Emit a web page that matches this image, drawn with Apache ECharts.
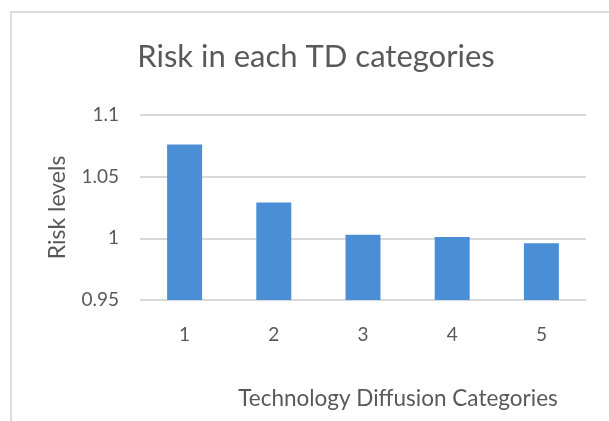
<!DOCTYPE html>
<html>
<head>
<meta charset="utf-8">
<script src="https://cdn.jsdelivr.net/npm/echarts@6/dist/echarts.min.js"></script>
<style>
  html, body { margin: 0; padding: 0; background: #fff; }
  #chart { width: 609px; height: 421px; }
</style>
</head>
<body>
<div id="chart"></div>
<script>
// Technology diffusion categories and their risk levels
const categories = ['1', '2', '3', '4', '5'];
const riskLevels = [1.076, 1.029, 1.003, 1.001, 0.996];
const yTicks = { min: 0.95, max: 1.1, step: 0.05 };

const textColor = '#595959';
const fontFamily = 'Lato, "Open Sans", "Liberation Sans", sans-serif';

const chart = echarts.init(document.getElementById('chart'), null, { renderer: 'canvas' });

chart.setOption({
  backgroundColor: '#ffffff',
  animation: false,
  title: {
    text: 'Risk in each TD categories',
    left: 311,
    top: 36,
    textAlign: 'center',
    textStyle: { color: textColor, fontSize: 31, fontWeight: 'normal', fontFamily: fontFamily }
  },
  grid: { left: 140, right: 23, top: 115, bottom: 121 },
  xAxis: {
    type: 'category',
    data: categories,
    name: 'Technology Diffusion Categories',
    nameLocation: 'middle',
    nameGap: 87,
    nameTextStyle: { color: textColor, fontSize: 22.5, fontFamily: fontFamily, padding: [0, 0, 0, 70] },
    axisLine: { show: true, lineStyle: { color: '#d9d9d9', width: 1 } },
    axisTick: { show: false },
    axisLabel: { color: textColor, fontSize: 19, fontFamily: fontFamily, margin: 25 }
  },
  yAxis: {
    type: 'value',
    min: yTicks.min,
    max: yTicks.max,
    interval: yTicks.step,
    name: 'Risk levels',
    nameLocation: 'middle',
    nameGap: 71,
    nameRotate: 90,
    nameTextStyle: { color: textColor, fontSize: 23, fontFamily: fontFamily },
    axisLine: { show: false },
    axisTick: { show: false },
    axisLabel: { color: textColor, fontSize: 19, fontFamily: fontFamily, margin: 21,
      formatter: v => String(Math.round(v * 100) / 100) },
    splitLine: { lineStyle: { color: '#d9d9d9', width: 2 } }
  },
  series: [{
    type: 'bar',
    data: riskLevels,
    barWidth: 35,
    itemStyle: { color: '#4a8fd6' }
  }],
  graphic: [
    { type: 'line', shape: { x1: 10, y1: 12, x2: 609, y2: 12 }, style: { stroke: '#dcdcdc', lineWidth: 2 } },
    { type: 'line', shape: { x1: 11, y1: 12, x2: 11, y2: 421 }, style: { stroke: '#dcdcdc', lineWidth: 2 } }
  ]
});
</script>
</body>
</html>
